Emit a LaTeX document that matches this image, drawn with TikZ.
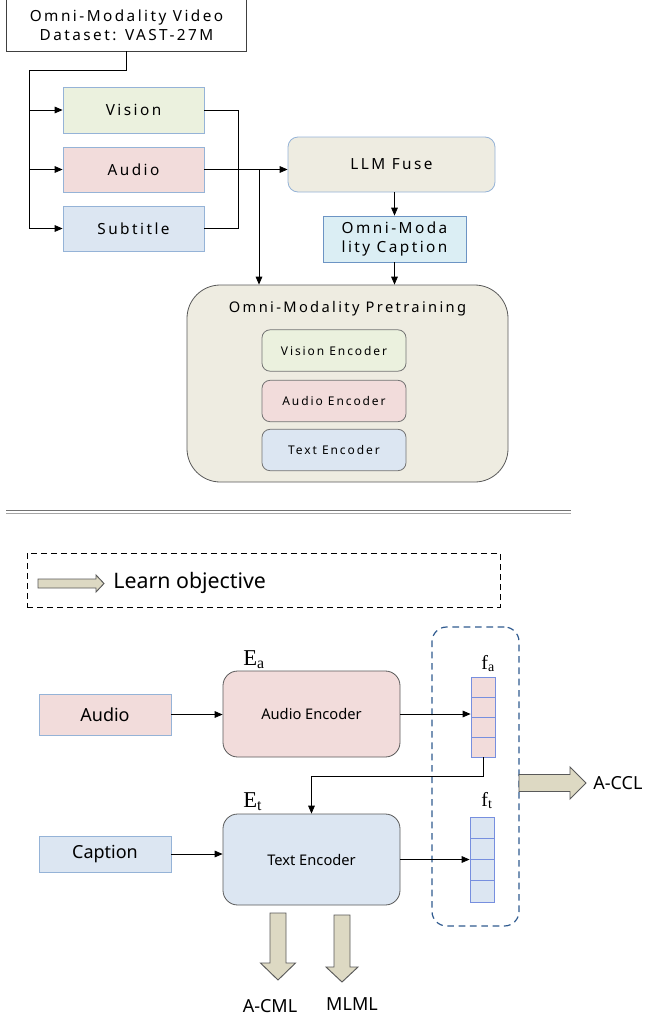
\documentclass[tikz,border=0pt]{standalone}
\usepackage{fontspec}
\usepackage{xcolor}
\setmainfont{Noto Sans}
\newfontfamily\spaced[LetterSpace=16]{Noto Sans}
\newfontfamily\symfont{Liberation Serif}
\usetikzlibrary{arrows.meta}
\definecolor{visfill}{HTML}{EBF1DE}
\definecolor{audfill}{HTML}{F2DCDB}
\definecolor{txtfill}{HTML}{DCE6F2}
\definecolor{fusefill}{HTML}{EEECE1}
\definecolor{capfill}{HTML}{DBEEF4}
\definecolor{capline}{HTML}{6C94C4}
\definecolor{objfill}{HTML}{DDD9C3}
\definecolor{lineblue}{HTML}{95B3D7}
\definecolor{dashblue}{HTML}{2F5A8F}
\newcommand{\vecname}[3]{{\symfont\fontsize{#1}{#1}\selectfont #2\raisebox{-0.3ex}{\fontsize{0.7\dimexpr#1pt\relax}{10}\selectfont #3}}}

\begin{document}
\begin{tikzpicture}[x=0.75pt,y=-0.75pt,line width=0.6pt,
  box/.style={draw=lineblue,inner sep=0pt,align=center,font=\spaced\fontsize{11.5}{14}\selectfont},
  enc/.style={draw=black!55,rounded corners=6pt,inner sep=0pt,minimum width=108pt,minimum height=31pt,font=\spaced\fontsize{9}{11}\selectfont},
  bigenc/.style={draw=black!65,rounded corners=11pt,inner sep=0pt,minimum width=132.75pt,font=\fontsize{11}{13}\selectfont},
  inbox/.style={draw=lineblue,inner sep=0pt,minimum width=99pt,font=\fontsize{13.5}{16}\selectfont},
  cell/.style={draw=lineblue!80!blue,inner sep=0pt,minimum width=18pt},
  arr/.style={-{Triangle[length=6pt,width=5pt]}},
  fat/.style={draw=black!65,fill=objfill,line width=0.7pt},
  loss/.style={inner sep=0pt,font=\fontsize{13.5}{16}\selectfont},
  sym/.style={inner sep=0pt,anchor=base west}]
\useasboundingbox (0,0) rectangle (645,1017);

\node at (126.5,25.5) (Data) [box,draw=none,minimum width=179.25pt,minimum height=38.25pt] {Omni-Modality Video\\Dataset: VAST-27M};
\draw[black!75] (Data.north west) -- (Data.south west) -- (Data.south east) -- (Data.north east);
\node at (133.5,110) (Vis) [box,fill=visfill,minimum width=105.75pt,minimum height=34.5pt] {Vision};
\node at (133.5,169.5) (Aud) [box,fill=audfill,minimum width=105.75pt,minimum height=33.75pt] {Audio};
\node at (133.5,228.5) (Sub) [box,fill=txtfill,minimum width=105.75pt,minimum height=33.75pt] {Subtitle};
\node at (391.5,164.5) (Fuse) [box,fill=fusefill,rounded corners=7.5pt,minimum width=155.25pt,minimum height=41.25pt] {LLM Fuse};
\node at (394.5,239) (Cap) [box,fill=capfill,draw=capline,minimum width=107.25pt,minimum height=34.5pt] {Omni-Moda\\lity Caption};
\node at (347.5,383.5) (Pre) [fill=fusefill,draw=black!65,rounded corners=25pt,minimum width=240.75pt,minimum height=147.75pt,inner sep=0pt] {};
\node at (347.5,309) (PreT) [font=\spaced\fontsize{11}{13}\selectfont] {Omni-Modality Pretraining};
\node at (334,350.5) (VEnc) [enc,fill=visfill] {Vision Encoder};
\node at (334,401) (AEnc) [enc,fill=audfill] {Audio Encoder};
\node at (334,450) (TEnc) [enc,fill=txtfill] {Text Encoder};

\coordinate (Split) at (29,70);
\coordinate (Branch) at (259,169.5);
\draw (Data.south) |- (Split) -- (Split |- Sub);
\draw[arr] (Split |- Vis) -- (Vis);
\draw[arr] (Split |- Aud) -- (Aud);
\draw[arr] (Split |- Sub) -- (Sub);
\draw (Vis.east) -- ++(34,0) |- (Sub.east);
\draw[arr] (Aud.east) -- (Aud.east -| Fuse.west);
\draw[arr] (Branch) -- (Branch |- Pre.north);
\draw[arr] (Cap.north |- Fuse.south) -- (Cap.north);
\draw[arr] (Cap.south) -- (Cap.south |- Pre.north);

\draw[black!55,line width=1.1pt] (6,510.5) -- (571,510.5);
\draw[black!35,line width=1.1pt] (6,513.5) -- (571,513.5);

\node at (263.5,580) (Key) [draw,dash pattern=on 4.5pt off 3pt,minimum width=354.75pt,minimum height=40.5pt,inner sep=0pt] {};
\draw[fat] (38,579) -- (96,579) -- (96,575) -- (104,583.5) -- (96,592) -- (96,588) -- (38,588) -- cycle;
\node at (113,583) (KeyT) [anchor=west,inner sep=0pt,font=\fontsize{16}{19}\selectfont] {Learn objective};

\node at (475.5,776.5) (Feat) [draw=dashblue,dash pattern=on 5pt off 3.5pt,rounded corners=11pt,minimum width=65.25pt,minimum height=224.25pt,inner sep=0pt,line width=0.9pt] {};
\node at (105,714.5) (AIn) [inbox,fill=audfill,minimum height=30.75pt] {Audio};
\node at (311.5,714) (AEncB) [bigenc,fill=audfill,minimum height=64.5pt] {Audio Encoder};
\node at (105,854) (CIn) [inbox,fill=txtfill,minimum height=27pt] {Caption};
\node at (311.5,859.5) (TEncB) [bigenc,fill=txtfill,minimum height=68.25pt] {Text Encoder};
\foreach \i/\y in {1/687,2/707,3/727,4/747}
  \node at (483,\y) (Fa\i) [cell,fill=audfill,minimum height=15pt] {};
\foreach \i/\y in {1/827.6,2/848.9,3/870.1,4/891.4}
  \node at (482,\y) (Ft\i) [cell,fill=txtfill,minimum height=16pt] {};
\node at (243,665) (Ea) [sym] {\vecname{17}{E}{a}};
\node at (243,807) (Et) [sym] {\vecname{17}{E}{t}};
\node at (481,669) (FaL) [sym] {\vecname{15}{f}{a}};
\node at (481,806) (FtL) [sym] {\vecname{15}{f}{t}};

\draw[arr] (AIn.east) -- (AIn.east -| AEncB.west);
\draw[arr] (AEncB.east) -- (AEncB.east -| Fa1.west);
\draw[arr] (Fa4.south) -- ++(0,19) -| (TEncB.north);
\draw[arr] (CIn.east) -- (CIn.east -| TEncB.west);
\draw[arr] (TEncB.east) -- (TEncB.east -| Ft1.west);

\draw[fat] (519,774.5) -- (570,774.5) -- (570,767) -- (586,783) -- (570,799) -- (570,791.5) -- (519,791.5) -- cycle;
\node at (593,783) (CCL) [loss,anchor=west] {A-CCL};
\draw[fat] (270,913) -- (286,913) -- (286,963) -- (295.5,963) -- (278,980) -- (260.5,963) -- (270,963) -- cycle;
\draw[fat] (334,915) -- (350,915) -- (350,967) -- (358,967) -- (342,982) -- (326,967) -- (334,967) -- cycle;
\node at (270,1006) (CML) [loss] {A-CML};
\node at (352,1004) (MLM) [loss] {MLML};
\end{tikzpicture}
\end{document}
